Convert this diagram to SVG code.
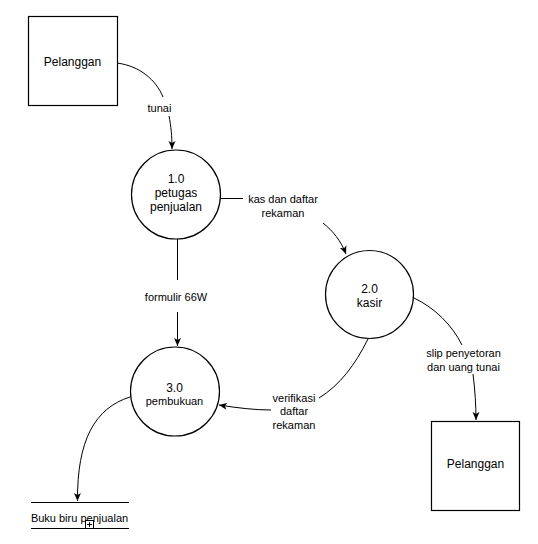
<svg xmlns="http://www.w3.org/2000/svg" width="538" height="544" viewBox="0 0 538 544">
<style>
.shape{fill:#ffffff;stroke:#000000;stroke-width:1.2}
.edge{fill:none;stroke:#000000;stroke-width:1}
.t12{font-family:"Liberation Sans",Arial,sans-serif;font-size:12px;fill:#000000;text-anchor:middle}
.t11{font-family:"Liberation Sans",Arial,sans-serif;font-size:11px;fill:#000000;text-anchor:middle}
</style>
<defs>
<marker id="arrow" markerUnits="userSpaceOnUse" markerWidth="8" markerHeight="8" viewBox="0 0 8 8" refX="8" refY="4" orient="auto">
<path d="M0 0.5 L8 4 L0 7.5 L2 4 Z" fill="#000000"/>
</marker>
</defs>
<rect width="538" height="544" fill="#ffffff"/>
<g id="connectors">
<g id="e-tunai">
<path class="edge" d="M117 63 C 140 66, 156 80, 163 97 M169 116 C 171 126, 172 136, 172 149" marker-end="url(#arrow)"/>
<text class="t11" x="159.5" y="112">tunai</text>
</g>
<g id="e-kas">
<path class="edge" d="M221 198.5 L243 198.5 M323 223 C 333 231, 341 241, 346 254" marker-end="url(#arrow)"/>
<text class="t11" x="283" y="203">kas dan daftar</text>
<text class="t11" x="283" y="216.5">rekaman</text>
</g>
<g id="e-formulir">
<path class="edge" d="M177.5 239 L177.5 280 M177.5 312 L177.5 346" marker-end="url(#arrow)"/>
<text class="t11" x="176" y="300.5">formulir 66W</text>
</g>
<g id="e-slip">
<path class="edge" d="M414 298 C 435 308, 452 325, 462 345 M473 374 C 475 390, 476 405, 476 420" marker-end="url(#arrow)"/>
<text class="t11" x="463.5" y="357">slip penyetoran</text>
<text class="t11" x="463.5" y="370.5">dan uang tunai</text>
</g>
<g id="e-verifikasi">
<path class="edge" d="M368 339 C 355 365, 340 385, 319 398 M271 410 C 255 410, 238 408, 219 405" marker-end="url(#arrow)"/>
<text class="t11" x="294" y="402">verifikasi</text>
<text class="t11" x="294" y="415">daftar</text>
<text class="t11" x="294" y="428.5">rekaman</text>
</g>
<g id="e-buku">
<path class="edge" d="M130 397 C 95 408, 77 440, 77.5 501" marker-end="url(#arrow)"/>
</g>
</g>
<g id="pelanggan1">
<rect class="shape" x="28.5" y="16.5" width="89" height="89"/>
<text class="t12" x="72.5" y="66">Pelanggan</text>
</g>
<g id="p1">
<circle class="shape" cx="176" cy="194.5" r="44.5"/>
<text class="t12" x="176" y="183">1.0</text>
<text class="t12" x="176" y="197">petugas</text>
<text class="t12" x="176" y="211">penjualan</text>
</g>
<g id="p2">
<circle class="shape" cx="369.5" cy="294.5" r="44"/>
<text class="t12" x="369.5" y="292.5">2.0</text>
<text class="t12" x="369.5" y="306.5">kasir</text>
</g>
<g id="p3">
<circle class="shape" cx="175" cy="391.5" r="44.5"/>
<text class="t12" x="174.5" y="391.5">3.0</text>
<text class="t11" x="174.5" y="405">pembukuan</text>
</g>
<g id="pelanggan2">
<rect class="shape" x="431.5" y="421.5" width="88" height="89"/>
<text class="t12" x="475.5" y="468">Pelanggan</text>
</g>
<g id="store">
<line class="edge" x1="31" y1="502.5" x2="129" y2="502.5"/>
<line class="edge" x1="31" y1="528.5" x2="129" y2="528.5"/>
<text class="t11" x="79.5" y="522">Buku biru penjualan</text>
<rect x="85.5" y="520.5" width="8" height="8" fill="#ffffff" stroke="#000000" stroke-width="1"/>
<path class="edge" d="M89.5 522 L89.5 527 M87 524.5 L92 524.5"/>
</g>
</svg>
